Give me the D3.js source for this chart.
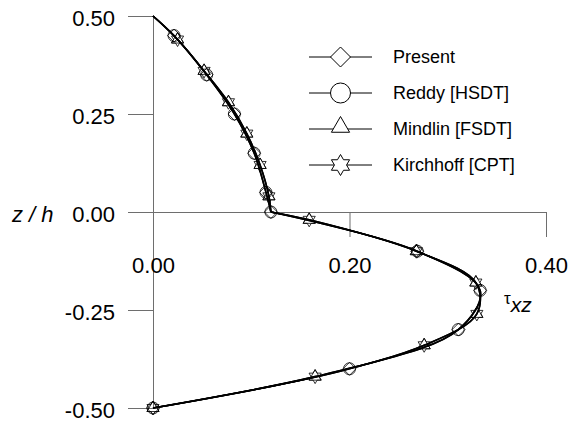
<!DOCTYPE html>
<html>
<head>
<meta charset="utf-8">
<script src="https://cdn.jsdelivr.net/npm/d3@7"></script>
<style>
  html, body { margin: 0; padding: 0; background: #fff; }
  svg { display: block; font-family: "Liberation Sans", Arial, sans-serif; }
</style>
</head>
<body>
<svg id="chart" width="568" height="423"></svg>
<script>
// ---- data ----
const seriesNames = ["Present", "Reddy [HSDT]", "Mindlin [FSDT]", "Kirchhoff [CPT]"];
const seriesSymbols = ["diamond", "circle", "triangle", "star"];

// Present & Reddy sampled at the same z/h locations
const zPresent   = [0.45, 0.35, 0.25, 0.15, 0.05, 0.00, -0.10, -0.20, -0.30, -0.40, -0.50];
const tauPresent = [0.0214, 0.0546, 0.0830, 0.1030, 0.1150, 0.1200, 0.2690, 0.3330, 0.3110, 0.2000, 0.0000];
const zReddy     = [0.45, 0.35, 0.25, 0.15, 0.05, 0.00, -0.10, -0.20, -0.30, -0.40, -0.50];
const tauReddy   = [0.0214, 0.0546, 0.0828, 0.1030, 0.1150, 0.1200, 0.2690, 0.3330, 0.3106, 0.2000, 0.0000];

// Mindlin & Kirchhoff sampled at other z/h locations
const zMindlin     = [0.44, 0.36, 0.28, 0.20, 0.12, 0.04, -0.02, -0.10, -0.18, -0.26, -0.34, -0.42, -0.50];
const tauMindlin   = [0.0250, 0.0520, 0.0768, 0.0955, 0.1090, 0.1180, 0.1590, 0.2680, 0.3286, 0.3296, 0.2760, 0.1650, 0.0000];
const zKirchhoff   = [0.44, 0.36, 0.28, 0.20, 0.12, 0.04, -0.02, -0.10, -0.18, -0.26, -0.34, -0.42, -0.50];
const tauKirchhoff = [0.0250, 0.0520, 0.0768, 0.0955, 0.1090, 0.1180, 0.1590, 0.2680, 0.3286, 0.3296, 0.2760, 0.1650, 0.0000];

// traction-free top surface and interface values used by the curves
const surfaceZ = [0.5];
const surfaceTau = [0.0];
const interfaceTauMK = [0.1200];

const xTicks = [0.0, 0.2, 0.4];
const yTicks = [-0.5, -0.25, 0.0, 0.25, 0.5];

// ---- scales ----
const svg = d3.select("#chart");
const x = d3.scaleLinear().domain([0, 0.4]).range([153, 546]);
const y = d3.scaleLinear().domain([-0.5, 0.5]).range([408, 16]);
const axisColor = "#6e6e6e";
const fmt = v => d3.format(".2f")(v).replace("\u2212", "-");

// ---- axes ----
const yAxis = d3.axisLeft(y).tickValues(yTicks).tickSize(25).tickSizeOuter(0)
  .tickPadding(13).tickFormat(fmt);
const gy = svg.append("g").attr("transform", `translate(${x(0)},0)`).call(yAxis);

const xAxis = d3.axisBottom(x).tickValues(xTicks).tickSize(25).tickSizeOuter(0)
  .tickPadding(20).tickFormat(fmt);
const gx = svg.append("g").attr("transform", `translate(0,${y(0)})`).call(xAxis);

[gx, gy].forEach(g => {
  g.select(".domain").attr("stroke", axisColor).attr("stroke-width", 1);
  g.selectAll(".tick line").attr("stroke", axisColor).attr("stroke-width", 1);
  g.selectAll(".tick text").attr("fill", "#000").style("font-size", "22px")
    .style("font-family", '"Liberation Sans", Arial, sans-serif');
});
gy.selectAll(".tick text").attr("dy", "0.41em");
gx.selectAll(".tick text").attr("dy", "0.71em");

// axis titles
svg.append("text").attr("x", 12).attr("y", 222)
  .style("font-size", "22px").style("font-style", "italic").text("z / h");

const tt = svg.append("text").attr("x", 504).attr("y", 312);
tt.append("tspan").text("τ").style("font-size", "17px").attr("dy", "-8");
tt.append("tspan").text("xz").style("font-size", "21px").style("font-style", "italic").attr("dy", "8");

// ---- symbols ----
function symbolPath(type, r) {
  if (type === "circle") {
    return `M${r},0A${r},${r} 0 1,1 ${-r},0A${r},${r} 0 1,1 ${r},0Z`;
  }
  if (type === "diamond") {
    return `M0,${-r}L${r},0L0,${r}L${-r},0Z`;
  }
  if (type === "triangle") {
    return `M0,${-r}L${r * 0.866},${r * 0.5}L${-r * 0.866},${r * 0.5}Z`;
  }
  if (type === "star") {
    const ri = r / Math.sqrt(3);
    let p = "";
    for (let i = 0; i < 12; i++) {
      const a = -Math.PI / 2 + i * Math.PI / 6;
      const rr = i % 2 === 0 ? r : ri;
      p += (i === 0 ? "M" : "L") + (rr * Math.cos(a)).toFixed(2) + "," + (rr * Math.sin(a)).toFixed(2);
    }
    return p + "Z";
  }
}

// ---- build series ----
const seriesData = [
  { z: zPresent, tau: tauPresent },
  { z: zReddy, tau: tauReddy },
  { z: zMindlin, tau: tauMindlin },
  { z: zKirchhoff, tau: tauKirchhoff }
].map((s, i) => {
  const pts = s.z.map((zz, j) => ({ z: zz, tau: s.tau[j] }));
  const top = [{ z: surfaceZ[0], tau: surfaceTau[0] }].concat(pts.filter(p => p.z >= 0));
  let bottom = pts.filter(p => p.z <= 0);
  if (!pts.some(p => p.z === 0)) {
    top.push({ z: 0, tau: interfaceTauMK[0] });
    bottom = [{ z: 0, tau: interfaceTauMK[0] }].concat(bottom);
  }
  return { name: seriesNames[i], symbol: seriesSymbols[i], pts, top, bottom };
});

const line = d3.line().x(d => x(d.tau)).y(d => y(d.z)).curve(d3.curveCatmullRom.alpha(0.5));

const plot = svg.append("g");
seriesData.forEach(s => {
  [s.top, s.bottom].forEach(seg => {
    plot.append("path").datum(seg).attr("d", line)
      .attr("fill", "none").attr("stroke", "#000").attr("stroke-width", 1.6);
  });
});

const markerR = { diamond: 6.5, circle: 6, triangle: 7, star: 7 };
seriesData.forEach(s => {
  plot.selectAll(null).data(s.pts).enter().append("path")
    .attr("transform", d => `translate(${x(d.tau)},${y(d.z)})`)
    .attr("d", symbolPath(s.symbol, markerR[s.symbol]))
    .attr("fill", "none").attr("stroke", "#000").attr("stroke-width", 0.8);
});

// ---- legend ----
const legendR = { diamond: 10, circle: 10, triangle: 10.5, star: 10.5 };
const leg = svg.append("g");
seriesData.forEach((s, i) => {
  const ly = 57 + i * 36;
  const g = leg.append("g").attr("transform", `translate(0,${ly})`);
  g.append("line").attr("x1", 309).attr("x2", 372).attr("y1", 0).attr("y2", 0)
    .attr("stroke", "#000").attr("stroke-width", 1);
  g.append("path").attr("transform", `translate(340.5,${s.symbol === "triangle" ? -2 : 0})`)
    .attr("d", symbolPath(s.symbol, legendR[s.symbol]))
    .attr("fill", "#fff").attr("stroke", "#000").attr("stroke-width", 1);
  g.append("text").attr("x", 393).attr("y", 0).attr("dy", "0.36em")
    .style("font-size", "18px").text(s.name);
});
</script>
</body>
</html>
